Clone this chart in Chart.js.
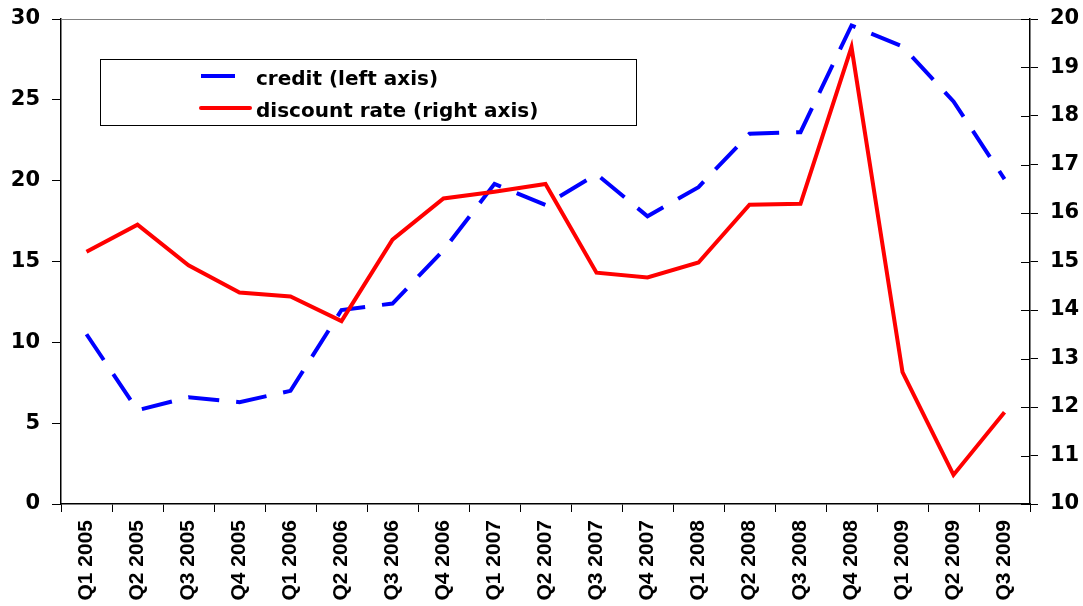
<!DOCTYPE html>
<html>
<head>
<meta charset="utf-8">
<script src="https://cdn.jsdelivr.net/npm/chart.js@4/dist/chart.umd.min.js"></script>
<style>
html,body{margin:0;padding:0;background:#fff;}
#wrap{position:relative;width:1083px;height:606px;}
</style>
</head>
<body>
<div id="wrap"><canvas id="c" width="1083" height="606"></canvas></div>
<script>
const categories = ["Q1 2005","Q2 2005","Q3 2005","Q4 2005","Q1 2006","Q2 2006","Q3 2006","Q4 2006","Q1 2007","Q2 2007","Q3 2007","Q4 2007","Q1 2008","Q2 2008","Q3 2008","Q4 2008","Q1 2009","Q2 2009","Q3 2009"];
const credit = [10.5, 5.8, 6.6, 6.3, 7.0, 12.0, 12.4, 15.7, 19.8, 18.5, 20.4, 17.8, 19.6, 22.9, 23.0, 29.6, 28.3, 24.9, 20.1];
const discountRate = [15.2, 15.76, 14.92, 14.36, 14.28, 13.77, 15.45, 16.3, 16.44, 16.6, 14.77, 14.67, 14.98, 16.17, 16.19, 19.42, 12.72, 10.6, 11.89];
const leftTicks = [0, 5, 10, 15, 20, 25, 30];
const rightTicks = [10, 11, 12, 13, 14, 15, 16, 17, 18, 19, 20];
const seriesNames = ["credit (left axis)", "discount rate (right axis)"];

const FONT = "'Liberation Sans', Arial, sans-serif";
const WIDE = "'DejaVu Sans', sans-serif";

const decorPlugin = {
  id: 'decor',
  beforeDatasetsDraw(chart) {
    const {ctx, chartArea: a} = chart;
    ctx.save();
    ctx.strokeStyle = '#808080';
    ctx.lineWidth = 1;
    ctx.beginPath();
    ctx.moveTo(a.left, a.top + 0.5);
    ctx.lineTo(a.right, a.top + 0.5);
    ctx.stroke();
    const yR = chart.scales.yR;
    ctx.strokeStyle = '#000';
    ctx.lineWidth = 1;
    yR.ticks.forEach(t => {
      const y = Math.round(yR.getPixelForValue(t.value)) + 0.5;
      ctx.beginPath();
      ctx.moveTo(a.right - 9, y);
      ctx.lineTo(a.right, y);
      ctx.stroke();
    });
    ctx.restore();
  },
  afterDatasetsDraw(chart) {
    const {ctx} = chart;
    ctx.save();
    const bx = 100.5, by = 59.5, bw = 536, bh = 66;
    ctx.fillStyle = '#fff';
    ctx.fillRect(bx, by, bw, bh);
    ctx.strokeStyle = '#000';
    ctx.lineWidth = 1;
    ctx.strokeRect(bx, by, bw, bh);
    ctx.strokeStyle = '#0000FF';
    ctx.lineWidth = 4;
    ctx.lineCap = 'butt';
    ctx.beginPath();
    ctx.moveTo(201, 76);
    ctx.lineTo(235, 76);
    ctx.stroke();
    ctx.strokeStyle = '#FF0000';
    ctx.lineCap = 'round';
    ctx.beginPath();
    ctx.moveTo(201, 108);
    ctx.lineTo(250, 108);
    ctx.stroke();
    ctx.fillStyle = '#000';
    ctx.font = "bold 20px " + WIDE;
    ctx.textBaseline = 'alphabetic';
    ctx.textAlign = 'left';
    ctx.fillText(seriesNames[0], 256, 85);
    ctx.fillText(seriesNames[1], 256, 117);
    ctx.restore();
  }
};

new Chart(document.getElementById('c'), {
  type: 'line',
  data: {
    labels: categories,
    datasets: [
      {
        label: seriesNames[1],
        data: discountRate,
        yAxisID: 'yR',
        borderColor: '#FF0000',
        borderWidth: 4,
        pointRadius: 0,
        tension: 0,
        fill: false,
        borderJoinStyle: 'miter'
      },
      {
        label: seriesNames[0],
        data: credit,
        yAxisID: 'yL',
        borderColor: '#0000FF',
        borderWidth: 4,
        borderDash: [31, 17],
        pointRadius: 0,
        tension: 0,
        fill: false
      }
    ]
  },
  options: {
    responsive: false,
    animation: false,
    layout: {padding: {top: 19, left: 0, right: 0, bottom: 0}},
    plugins: {legend: {display: false}, tooltip: {enabled: false}},
    scales: {
      x: {
        offset: true,
        grid: {display: true, drawOnChartArea: false, offset: true, tickLength: 8, color: '#000', lineWidth: 1},
        border: {display: true, color: '#000', width: 1.5},
        ticks: {
          minRotation: 90, maxRotation: 90, autoSkip: false, padding: 8,
          color: '#000', font: {family: FONT, size: 21, weight: 'bold'}
        },
        afterFit(s) { s.height = 102; s.paddingLeft = 0; s.paddingRight = 0; }
      },
      yL: {
        position: 'left',
        min: 0, max: 30,
        afterBuildTicks(s) { s.ticks = leftTicks.map(v => ({value: v})); },
        grid: {display: true, drawOnChartArea: false, tickLength: 9, color: '#000', lineWidth: 1},
        border: {display: true, color: '#000', width: 1.5},
        ticks: {padding: 12, color: '#000', font: {family: WIDE, size: 21, weight: 'bold'}},
        afterFit(s) { s.width = 61; s.paddingTop = 0; s.paddingBottom = 0; }
      },
      yR: {
        position: 'right',
        min: 10, max: 20,
        afterBuildTicks(s) { s.ticks = rightTicks.map(v => ({value: v})); },
        grid: {display: true, drawOnChartArea: false, tickLength: 8, color: '#000', lineWidth: 1},
        border: {display: true, color: '#000', width: 1.5},
        ticks: {padding: 12, color: '#000', font: {family: WIDE, size: 21, weight: 'bold'}},
        afterFit(s) { s.width = 53; s.paddingTop = 0; s.paddingBottom = 0; }
      }
    }
  },
  plugins: [decorPlugin]
});
</script>
</body>
</html>
